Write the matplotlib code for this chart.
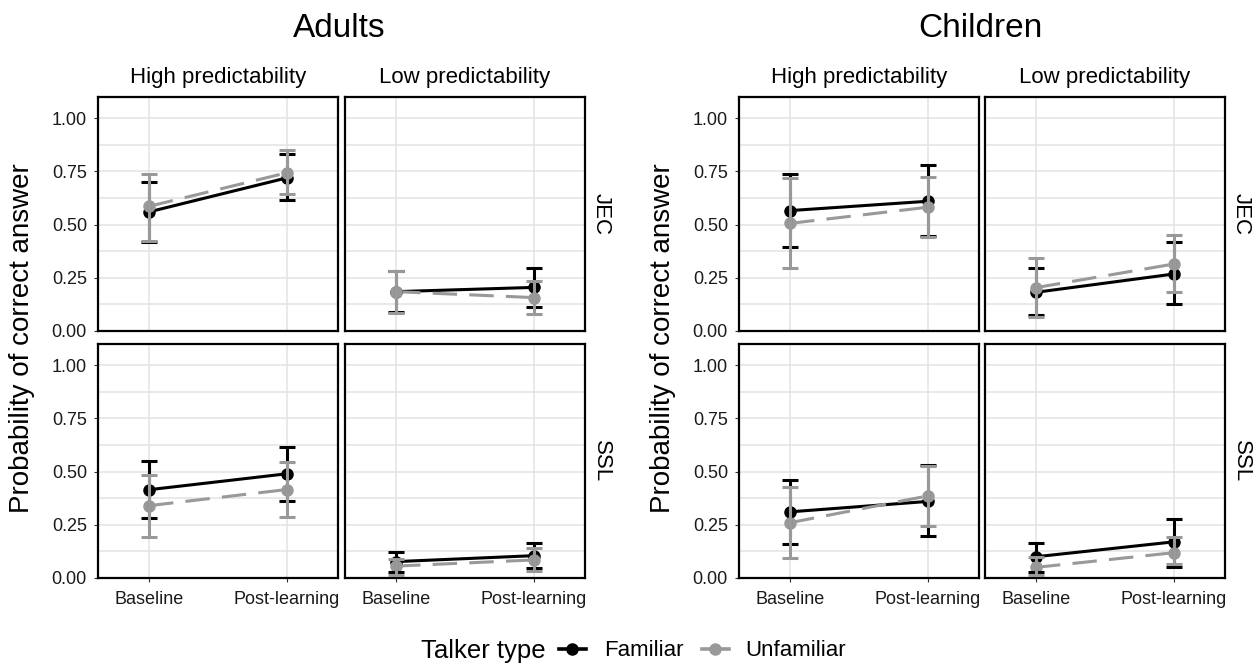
import matplotlib
matplotlib.use("Agg")
import matplotlib.pyplot as plt
from matplotlib.lines import Line2D
import numpy as np

plt.rcParams['font.family'] = ['Liberation Sans', 'DejaVu Sans']

# data -------------------------------------------------------------
ages = ["Adults", "Children"]
tests = ["JEC", "SSL"]
preds = ["High predictability", "Low predictability"]
phases = ["Baseline", "Post-learning"]
talkers = ["Familiar", "Unfamiliar"]

# panel order: age -> test -> predictability
fam_mean = [[0.56, 0.72], [0.185, 0.205], [0.415, 0.49], [0.077, 0.105],
            [0.566, 0.61], [0.182, 0.268], [0.311, 0.36], [0.10, 0.17]]
fam_lo = [[0.42, 0.617], [0.09, 0.115], [0.28, 0.362], [0.027, 0.045],
          [0.395, 0.445], [0.075, 0.125], [0.158, 0.197], [0.027, 0.05]]
fam_hi = [[0.70, 0.83], [0.28, 0.296], [0.551, 0.617], [0.12, 0.166],
          [0.736, 0.778], [0.294, 0.417], [0.463, 0.53], [0.166, 0.277]]
unf_mean = [[0.586, 0.744], [0.185, 0.157], [0.34, 0.416], [0.056, 0.085],
            [0.506, 0.582], [0.204, 0.315], [0.26, 0.386], [0.05, 0.119]]
unf_lo = [[0.425, 0.646], [0.083, 0.079], [0.194, 0.288], [0.014, 0.033],
          [0.296, 0.44], [0.068, 0.184], [0.092, 0.246], [0.014, 0.065]]
unf_hi = [[0.74, 0.849], [0.28, 0.236], [0.484, 0.543], [0.09, 0.139],
          [0.72, 0.725], [0.343, 0.451], [0.426, 0.526], [0.097, 0.194]]

yticks = [0.0, 0.25, 0.5, 0.75, 1.0]
ytick_labels = ["0.00", "0.25", "0.50", "0.75", "1.00"]

# styles -----------------------------------------------------------
black = "#000000"
gray = "#999999"
W, H = 1260, 666
fig = plt.figure(figsize=(12.6, 6.66), dpi=100)

col_left = [[98, 345], [739, 985]]   # pixel left edges per age group
row_top = [97, 344]
pw, ph = 240, 234

def px_axes(x, y, w, h):
    return fig.add_axes([x / W, 1 - (y + h) / H, w / W, h / H])

def draw(ax, k):
    xs = np.arange(len(phases))
    series = [(fam_mean, fam_lo, fam_hi, black, '-'),
              (unf_mean, unf_lo, unf_hi, gray, (0, (8, 4)))]
    for m, lo, hi, c, ls in series:
        ax.plot(xs, m[k], color=c, lw=2.2, ls=ls, zorder=3)
    for m, lo, hi, c, ls in series:
        ax.plot(xs, m[k], 'o', color=c, ms=8, zorder=4)
    for m, lo, hi, c, ls in series:
        mm = np.array(m[k])
        err = [mm - np.array(lo[k]), np.array(hi[k]) - mm]
        ax.errorbar(xs, mm, yerr=err, fmt='none', ecolor=c, elinewidth=2.2,
                    capsize=5.5, capthick=2.2, zorder=5)

k = 0
for a, age in enumerate(ages):
    for t, test in enumerate(tests):
        for p, pred in enumerate(preds):
            ax = px_axes(col_left[a][p], row_top[t], pw, ph)
            draw(ax, k)
            k += 1
            ax.set_xlim(-0.37, 1.37)
            ax.set_ylim(0, 1.1)
            ax.set_xticks(range(len(phases)))
            ax.set_yticks(yticks)
            ax.set_yticks(np.arange(0.125, 1.1, 0.25), minor=True)
            ax.grid(True, which='major', color='#e3e3e3', lw=1.1, zorder=0)
            ax.grid(True, which='minor', axis='y', color='#e3e3e3', lw=1.1, zorder=0)
            ax.tick_params(which='minor', length=0)
            ax.tick_params(which='major', length=3, width=0.8, color='#333333',
                           labelsize=13, labelcolor='#1a1a1a')
            ax.tick_params(axis='y', pad=5)
            ax.tick_params(axis='x', pad=6)
            for s in ax.spines.values():
                s.set_linewidth(1.6)
                s.set_color('black')
            ax.set_axisbelow(True)
            if p == 0:
                ax.set_yticklabels(ytick_labels)
            else:
                ax.set_yticklabels([])
                ax.tick_params(axis='y', length=0)
            if t == 1:
                ax.set_xticklabels(phases)
            else:
                ax.set_xticklabels([])
                ax.tick_params(axis='x', length=0)
            if t == 0:
                ax.text(0.5, 1 + 14 / ph, pred, transform=ax.transAxes,
                        ha='center', va='baseline', fontsize=16)
            if p == 1:
                ax.text(1 + 16 / pw, 0.5, test, transform=ax.transAxes,
                        ha='center', va='center', rotation=-90, fontsize=16)

# group titles and y labels
for a, age in enumerate(ages):
    cx = (col_left[a][0] + col_left[a][1] + pw) / 2
    fig.text(cx / W - 2 / W, 1 - 37 / H, age, ha='center', va='baseline',
             fontsize=24)
    fig.text((22 + 641 * a) / W, 1 - 338 / H, "Probability of correct answer",
             ha='center', va='center', rotation=90, fontsize=20)

# legend (one small legend per key, placed side by side)
fig.text(421 / W, 1 - 651 / H, "Talker type", ha='left', va='center',
         fontsize=18.5)
key_x = [559, 702]
key_pad = [0.85, 0.75]
for i, (name, c) in enumerate(zip(talkers, [black, gray])):
    h = Line2D([], [], color=c, lw=2.6, marker='o', ms=8)
    fig.legend([h], [name], loc='center left',
               bbox_to_anchor=(key_x[i] / W, 1 - 651 / H), frameon=False,
               fontsize=16, handlelength=1.2, handletextpad=key_pad[i],
               borderaxespad=0, borderpad=0)

fig.savefig("out.png", dpi=100)
